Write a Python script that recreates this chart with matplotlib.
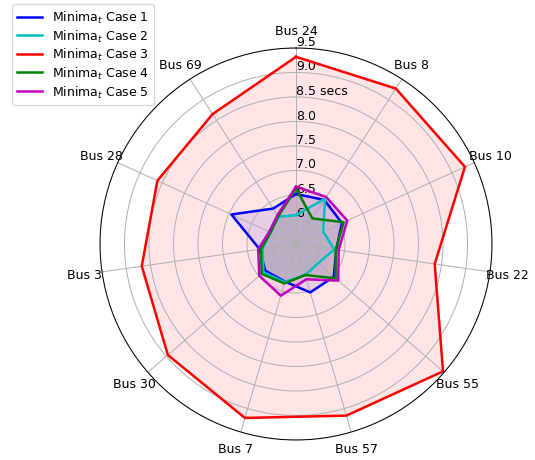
import numpy as np
import matplotlib
matplotlib.use("Agg")
import matplotlib.pyplot as plt

# buses, clockwise from the top
buses = ["Bus 24", "Bus 8", "Bus 10", "Bus 22", "Bus 55", "Bus 57",
         "Bus 7", "Bus 30", "Bus 3", "Bus 28", "Bus 69"]

# minimum operating times (secs) for each case
case1 = [6.52, 6.57, 6.53, 6.33, 6.52, 6.53, 6.30, 6.33, 6.25, 6.95, 6.36]
case2 = [6.09, 6.60, 6.11, 6.29, 6.10, 6.16, 6.31, 6.38, 6.19, 6.07, 6.16]
case3 = [9.32, 9.27, 9.29, 8.36, 9.47, 9.15, 9.20, 8.96, 8.68, 8.61, 8.65]
case4 = [6.63, 6.12, 6.57, 6.32, 6.57, 6.16, 6.34, 6.43, 6.22, 6.07, 6.17]
case5 = [6.67, 6.64, 6.65, 6.38, 6.64, 6.25, 6.60, 6.49, 6.28, 6.10, 6.20]

r_ticks = [6, 6.5, 7.0, 7.5, 8.0, 8.5, 9.0, 9.5]
r_labels = ["6", "6.5", "7.0", "7.5", "8.0", "8.5 secs", "9.0", "9.5"]

series = [
    (case1, "b", r"Minima$_t$ Case 1"),
    (case2, "c", r"Minima$_t$ Case 2"),
    (case3, "r", r"Minima$_t$ Case 3"),
    (case4, "g", r"Minima$_t$ Case 4"),
    (case5, "m", r"Minima$_t$ Case 5"),
]

N = len(buses)
angles = np.linspace(0, 2 * np.pi, N, endpoint=False).tolist()
angles += angles[:1]

fig = plt.figure(figsize=(535 / 90, 461 / 90), dpi=90)
ax = fig.add_axes([100 / 535, 20 / 461, 392 / 535, 392 / 461], polar=True)
ax.set_theta_offset(np.pi / 2)
ax.set_theta_direction(-1)

for vals, col, lab in series:
    v = vals + vals[:1]
    ax.plot(angles, v, color=col, linewidth=2, label=lab)
    ax.fill(angles, v, color=col, alpha=0.1)

ax.set_xticks(angles[:-1])
ax.set_xticklabels(buses)
ax.set_rlabel_position(0)
ax.set_yticks(r_ticks)
ax.set_yticklabels(r_labels)
ax.set_ylim(5.5, 9.5)

fig.legend(loc="upper left", bbox_to_anchor=(12 / 535, 1 - 5 / 461),
           borderaxespad=0, labelspacing=0.2)

fig.savefig("out.png", dpi=90)
